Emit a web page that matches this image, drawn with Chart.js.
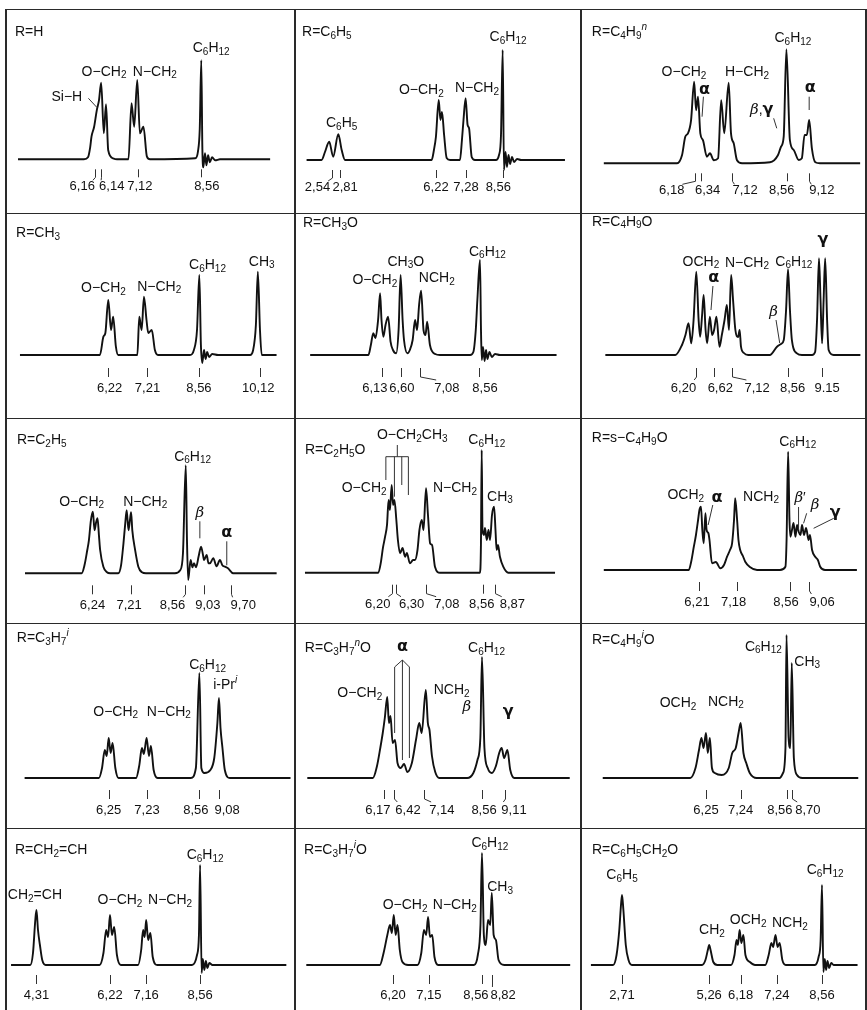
<!DOCTYPE html>
<html lang="en">
<head>
<meta charset="UTF-8">
<title>NMR spectra</title>
<script src="https://cdn.jsdelivr.net/npm/chart.js@4.4.1/dist/chart.umd.min.js"></script>
<style>
  body { margin: 0; background: #fff; }
  #fig { position: relative; width: 867px; height: 1010px; background: #fff; overflow: hidden; }
  #fig canvas { position: absolute; }
  .hl, .vl { position: absolute; background: #2a2a2a; }
  .hl { height: 1px; }
  .vl { width: 2px; }
</style>
</head>
<body>
<div id="fig"></div>
<script>
// ---- spectra: [tau (ppm), relative intensity above baseline] ----
const p1Curve = [[4.40,0],[5.90,0],[5.99,2],[6.04,12],[6.07,22.6],[6.13,32.6],[6.19,49],[6.24,59],[6.29,76.6],[6.35,26],[6.40,55],[6.45,9],[6.56,1],[6.65,0],[6.91,0],[6.98,56],[7.04,32.6],[7.11,79.3],[7.17,26],[7.25,32.6],[7.33,2.6],[7.40,0],[8.43,1],[8.49,8],[8.53,30],[8.565,99],[8.59,10],[8.61,-8],[8.65,6],[8.68,-6],[8.72,4],[8.76,-3],[8.81,2],[8.88,-1],[8.99,0],[10.13,0]];
const p1Ticks = [6.16, 6.28, 7.12, 8.56];
const p1TickText = ['6,16', '6,14', '7,12', '8,56'];
const p1TickAt = [5.86, 6.53, 7.17, 8.69];
const p1Notes = [['R=H', 4.33, 127.3, 'l'], ['Si−H', 5.51, 62.6], ['O−CH_2', 6.355, 87.6], ['N−CH_2', 7.51, 87.6], ['C_6H_{12}', 8.79, 111]];
const p1Lines = [[6.00, 61, 6.19, 52]];

const p2Curve = [[1.63,0],[2.16,0],[2.28,8],[2.43,18.3],[2.57,3.3],[2.75,25.7],[2.87,10],[2.99,0],[6.05,0],[6.13,10],[6.20,23],[6.30,60],[6.36,40],[6.415,48],[6.49,25],[6.58,2],[6.70,0],[7.05,0],[7.12,20],[7.175,40],[7.25,61.7],[7.32,35],[7.37,32],[7.465,3],[7.58,0],[8.32,0],[8.43,5],[8.50,25],[8.56,110],[8.605,-10],[8.66,8],[8.71,-7],[8.765,5],[8.82,-4],[8.89,3],[8.96,-2],[9.07,1],[9.21,0],[10.76,0]];
const p2Ticks = [2.54, 2.81, 6.22, 7.28, 8.56];
const p2TickText = ['2,54', '2,81', '6,22', '7,28', '8,56'];
const p2TickAt = [2.016, 2.99, 6.203, 7.263, 8.404];
const p2Notes = [['R=C_6H_5', 1.47, 128, 'l'], ['C_6H_5', 2.87, 36.7], ['O−CH_2', 5.684, 70], ['N−CH_2', 7.65, 72], ['C_6H_{12}', 8.75, 123]];
const p2Lines = [];

const p3Curve = [[3.81,0],[5.71,0],[5.835,8],[5.92,26.6],[5.99,30],[6.07,43],[6.15,81.6],[6.20,53],[6.25,66.6],[6.31,30],[6.38,23],[6.48,6.6],[6.56,10],[6.66,3],[6.77,5],[6.85,63],[6.93,30],[7.045,80.6],[7.105,30],[7.175,20],[7.26,3],[7.39,0],[8.115,1],[8.32,8],[8.40,16.6],[8.47,26.6],[8.54,114],[8.63,23.3],[8.73,13.3],[8.86,3.3],[8.94,5],[9.01,28.3],[9.07,28.3],[9.13,43.3],[9.20,15],[9.29,1],[9.41,0],[10.45,0]];
const p3Ticks = [6.18, 6.34, 7.12, 8.56, 9.12];
const p3TickText = ['6,18', '6,34', '7,12', '8,56', '9,12'];
const p3TickAt = [5.57, 6.50, 7.47, 8.42, 9.46];
const p3Notes = [['R=C_4H_9^n', 3.50, 131.3, 'l'], ['O−CH_2', 5.887, 91.3], ['H−CH_2', 7.52, 91.3], ['α', 6.42, 73.3], ['β,γ', 7.90, 53.3], ['C_6H_{12}', 8.71, 125], ['α', 9.16, 75]];
const p3Lines = [[6.39, 66.6, 6.355, 46.6], [8.21, 45, 8.29, 35], [9.13, 66.6, 9.13, 53.3]];

const p4Curve = [[3.96,0],[6.01,0],[6.10,18.3],[6.15,22],[6.225,55],[6.295,25],[6.35,38.3],[6.42,8.3],[6.48,0],[6.97,0],[7.02,38.3],[7.08,25],[7.14,58.3],[7.205,35],[7.25,22],[7.34,25],[7.42,5],[7.50,0],[8.32,0],[8.42,5],[8.50,25],[8.56,80],[8.60,10],[8.635,-8],[8.68,5],[8.72,-4],[8.76,3],[8.81,-2],[8.89,1],[9.04,0],[9.86,0],[9.94,5],[10.01,30],[10.06,83.3],[10.115,25],[10.16,0],[10.54,0]];
const p4Ticks = [6.22, 7.21, 8.56, 10.12];
const p4TickText = ['6,22', '7,21', '8,56', '10,12'];
const p4TickAt = [6.26, 7.23, 8.55, 10.07];
const p4Notes = [['R=CH_3', 3.86, 122, 'l'], ['O−CH_2', 6.10, 66.7], ['N−CH_2', 7.53, 68.3], ['C_6H_{12}', 8.77, 90], ['CH_3', 10.16, 93.3]];
const p4Lines = [];

const p5Curve = [[4.35,0],[5.80,0],[5.86,10],[5.92,21.7],[5.975,17],[6.04,35],[6.09,61.7],[6.125,35],[6.17,18.3],[6.225,30],[6.29,38.3],[6.35,13.3],[6.41,5],[6.49,1.7],[6.55,25],[6.60,80],[6.65,35],[6.685,15],[6.77,1.7],[6.83,5],[6.90,15],[6.96,35],[7.01,25],[7.06,50],[7.11,64.3],[7.17,25],[7.22,20],[7.26,33.3],[7.33,10],[7.46,1],[7.58,0],[8.33,0],[8.41,3],[8.47,25],[8.51,55],[8.575,95],[8.60,25],[8.62,-5],[8.65,8],[8.69,-6],[8.725,5],[8.76,-4],[8.81,3],[8.87,-2],[8.95,1],[9.07,0],[10.48,0]];
const p5Ticks = [6.13, 6.60, 7.08, 8.56];
const p5TickText = ['6,13', '6,60', '7,08', '8,56'];
const p5TickAt = [5.96, 6.63, 7.75, 8.70];
const p5Notes = [['R=CH_3O', 4.17, 131.7, 'l'], ['O−CH_2', 5.96, 75], ['CH_3O', 6.73, 93.3], ['NCH_2', 7.50, 76.7], ['C_6H_{12}', 8.76, 103.3]];
const p5Lines = [];

const p6Curve = [[3.85,0],[5.66,0],[5.83,10],[5.92,20],[6.00,31.7],[6.07,11.7],[6.13,35],[6.20,83.3],[6.26,35],[6.30,18.3],[6.35,40],[6.39,60],[6.44,25],[6.48,11.7],[6.55,38.3],[6.61,20],[6.66,25],[6.72,38.3],[6.80,8.3],[6.86,20],[6.93,35],[6.99,50],[7.045,25],[7.10,80],[7.15,55],[7.21,25],[7.28,18],[7.32,25],[7.355,8.3],[7.43,2],[7.54,0],[8.10,0],[8.285,8.3],[8.39,11],[8.46,15],[8.52,45],[8.57,85.7],[8.62,45],[8.67,15],[8.80,1.7],[8.93,0],[9.19,0],[9.27,3],[9.32,35],[9.37,96.7],[9.41,55],[9.45,11.7],[9.49,55],[9.53,96.7],[9.58,35],[9.62,5],[9.75,0],[10.44,0]];
const p6Ticks = [6.20, 6.65, 7.12, 8.56, 9.45];
const p6TickText = ['6,20', '6,62', '7,12', '8,56', '9.15'];
const p6TickAt = [5.87, 6.82, 7.77, 8.69, 9.58];
const p6Notes = [['R=C_4H_9O', 3.505, 133.3, 'l'], ['OCH_2', 6.32, 93.3], ['α', 6.65, 76.7], ['N−CH_2', 7.51, 92.3], ['C_6H_{12}', 8.72, 93.3], ['β', 8.20, 43.3], ['γ', 9.47, 115]];
const p6Lines = [[6.63, 69, 6.58, 45], [8.26, 35, 8.355, 12]];

const p7Curve = [[4.58,0],[5.99,0],[6.06,8],[6.13,23.3],[6.17,33],[6.22,53],[6.27,61.6],[6.31,43],[6.35,51],[6.385,55],[6.42,38],[6.45,23.3],[6.53,6.6],[6.62,1],[6.70,0],[6.90,0],[6.97,8],[7.03,30],[7.07,48],[7.11,63],[7.155,43],[7.19,53],[7.22,61],[7.25,43],[7.32,23.3],[7.40,6.6],[7.49,1],[7.59,0],[8.31,0],[8.44,3],[8.51,20],[8.58,108],[8.61,33],[8.64,-6.7],[8.70,13.3],[8.745,6],[8.785,10],[8.835,6],[8.90,17],[8.96,26.6],[9.01,18],[9.035,13.3],[9.10,18.3],[9.145,10],[9.18,10],[9.265,15],[9.345,7],[9.43,13.3],[9.49,8],[9.555,6.6],[9.63,5],[9.76,0],[10.84,0]];
const p7Ticks = [6.24, 7.21, 8.56, 9.03, 9.70];
const p7TickText = ['6,24', '7,21', '8,56', '9,03', '9,70'];
const p7TickAt = [6.26, 7.17, 8.25, 9.13, 10.01];
const p7Notes = [['R=C_2H_5', 4.38, 133.3, 'l'], ['C_6H_{12}', 8.75, 116.6], ['O−CH_2', 5.99, 71.6], ['N−CH_2', 7.57, 71.6], ['β', 8.93, 60], ['α', 9.60, 40]];
const p7Lines = [[8.93, 52, 8.93, 35], [9.60, 32, 9.60, 8]];

const p8Curve = [[3.965,0],[5.855,0],[5.92,10],[5.975,25],[6.03,36],[6.08,48],[6.12,72.7],[6.155,62.7],[6.20,87.7],[6.235,67.7],[6.27,72.7],[6.32,52.7],[6.36,32.7],[6.415,19.4],[6.48,24.7],[6.545,16],[6.59,19.7],[6.67,9.4],[6.75,12.7],[6.80,12.7],[6.865,22.7],[6.915,42.7],[6.975,52.7],[7.02,42.7],[7.085,84.4],[7.135,57.7],[7.19,29.4],[7.24,27.7],[7.315,6],[7.445,0],[8.475,0],[8.50,27.7],[8.52,122.7],[8.54,42.7],[8.58,37.7],[8.605,44.7],[8.65,32.7],[8.695,42.7],[8.735,32.7],[8.785,57.7],[8.84,66],[8.875,42.7],[8.905,22.7],[8.94,27.7],[8.99,16],[9.075,6],[9.205,0],[10.41,0]];
const p8Ticks = [6.20, 6.30, 7.08, 8.56, 8.87];
const p8TickText = ['6,20', '6,30', '7,08', '8,56', '8,87'];
const p8TickAt = [5.84, 6.715, 7.62, 8.52, 9.31];
const p8Notes = [['R=C_2H_5O', 3.965, 122.7, 'l'], ['O−CH_2CH_3', 6.73, 137.7], ['O−CH_2', 5.49, 84.4], ['N−CH_2', 7.83, 84.4], ['C_6H_{12}', 8.65, 132.7], ['CH_3', 8.99, 76]];
const p8Lines = [[6.345, 127.7, 6.345, 116], [6.05, 116, 6.63, 116], [6.05, 116, 6.05, 92.7], [6.27, 116, 6.27, 76], [6.46, 116, 6.46, 87.7], [6.63, 116, 6.63, 77.7]];

const p9Curve = [[3.74,0],[5.94,0],[6.00,8],[6.07,23.3],[6.125,35],[6.18,50],[6.215,60],[6.255,63.3],[6.29,40],[6.325,26.7],[6.37,56.7],[6.40,40],[6.445,37],[6.475,30],[6.54,6.7],[6.64,8],[6.755,1.7],[6.85,5],[6.93,13.3],[7.005,20],[7.06,26.7],[7.11,50],[7.14,71.7],[7.19,50],[7.225,30],[7.27,20],[7.34,14],[7.40,8.3],[7.52,3],[7.705,0],[8.30,0],[8.44,3.3],[8.47,30],[8.51,118.3],[8.545,50],[8.57,33.3],[8.61,40],[8.65,47],[8.70,33.3],[8.74,45],[8.785,38],[8.83,35],[8.87,45],[8.92,35],[8.975,42],[9.04,30],[9.075,35],[9.13,20],[9.21,13.3],[9.28,10],[9.34,3.3],[9.465,0],[10.29,0]];
const p9Ticks = [6.21, 7.18, 8.56, 9.06];
const p9TickText = ['6,21', '7,18', '8,56', '9,06'];
const p9TickAt = [6.152, 7.10, 8.455, 9.388];
const p9Notes = [['R=s−C_4H_9O', 3.43, 131.7, 'l'], ['C_6H_{12}', 8.76, 128.3], ['OCH_2', 5.86, 75], ['α', 6.67, 71.7], ['NCH_2', 7.81, 73.3], ['β′', 8.82, 71.7], ['β', 9.21, 65], ['γ', 9.73, 56.7]];
const p9Lines = [[6.56, 65, 6.44, 45], [8.78, 63, 8.78, 40], [8.99, 56.7, 8.91, 46.7], [9.69, 51.7, 9.17, 41.7]];

const p10Curve = [[4.1,0],[6.0,0],[6.08,10],[6.15,28],[6.20,22],[6.25,40],[6.30,25],[6.35,35],[6.42,10],[6.50,0],[6.95,0],[7.03,12],[7.10,30],[7.15,24],[7.22,40],[7.28,22],[7.33,32],[7.40,8],[7.50,0],[8.35,0],[8.48,10],[8.57,105],[8.62,10],[8.70,5],[8.85,8],[8.95,20],[9.03,55],[9.07,80],[9.11,50],[9.16,30],[9.22,8],[9.35,0],[10.9,0]];
const p10Ticks = [6.25, 7.23, 8.56, 9.08];
const p10TickText = ['6,25', '7,23', '8,56', '9,08'];
const p10TickAt = [6.25, 7.23, 8.48, 9.28];
const p10Notes = [['R=C_3H_7^i', 3.90, 140, 'l'], ['O−CH_2', 6.43, 66.3], ['N−CH_2', 7.79, 66.3], ['C_6H_{12}', 8.78, 113], ['i-Pr^i', 9.23, 93]];
const p10Lines = [];

const p11Curve = [[4.3,0],[5.9,0],[6.0,12],[6.08,30],[6.14,45],[6.19,60],[6.25,81],[6.29,55],[6.33,62],[6.38,35],[6.44,38],[6.50,15],[6.58,10],[6.66,14],[6.74,6],[6.85,15],[6.95,38],[7.03,55],[7.09,45],[7.19,88],[7.24,55],[7.28,48],[7.34,22],[7.42,6],[7.52,0],[8.2,0],[8.35,5],[8.45,18],[8.52,40],[8.56,121],[8.62,30],[8.70,10],[8.80,5],[8.90,12],[8.98,25],[9.04,30],[9.10,20],[9.18,28],[9.25,8],[9.35,0],[10.7,0]];
const p11Ticks = [6.17, 6.42, 7.14, 8.56, 9.11];
const p11TickText = ['6,17', '6,42', '7,14', '8,56', '9,11'];
const p11TickAt = [6.02, 6.755, 7.58, 8.61, 9.34];
const p11Notes = [['R=C_3H_7^nO', 4.24, 130, 'l'], ['α', 6.62, 131], ['O−CH_2', 5.58, 85], ['NCH_2', 7.82, 88], ['β', 8.19, 71], ['γ', 9.20, 66], ['C_6H_{12}', 8.67, 130]];
const p11Lines = [[6.62, 118, 6.43, 111], [6.43, 111, 6.43, 45], [6.62, 118, 6.79, 111], [6.79, 111, 6.79, 20], [6.62, 118, 6.62, 18]];

const p12Curve = [[3.3,0],[5.8,0],[5.95,10],[6.05,28],[6.12,40],[6.18,30],[6.25,45],[6.30,25],[6.36,40],[6.42,10],[6.5,5],[6.7,3],[6.9,10],[7.0,25],[7.1,30],[7.18,45],[7.24,55],[7.32,25],[7.4,15],[7.5,5],[7.7,0],[8.35,0],[8.45,5],[8.52,30],[8.55,143],[8.61,40],[8.66,30],[8.70,115],[8.76,20],[8.85,3],[9.0,0],[10.6,0]];
const p12Ticks = [6.25, 7.24, 8.56, 8.70];
const p12TickText = ['6,25', '7,24', '8,56', '8,70'];
const p12TickAt = [6.25, 7.24, 8.36, 9.16];
const p12Notes = [['R=C_4H_9^iO', 2.99, 138, 'l'], ['C_6H_{12}', 7.89, 131.3], ['CH_3', 9.14, 116.3], ['OCH_2', 5.45, 74.7], ['NCH_2', 6.82, 76.3]];
const p12Lines = [];

const p13Curve = [[3.65,0],[4.15,0],[4.22,12],[4.28,45],[4.31,55],[4.35,35],[4.40,20],[4.46,5],[4.55,0],[5.95,0],[6.05,12],[6.12,35],[6.17,28],[6.22,50],[6.27,30],[6.33,38],[6.40,10],[6.5,0],[6.95,0],[7.03,15],[7.08,35],[7.12,28],[7.16,45],[7.21,25],[7.27,32],[7.33,8],[7.45,0],[8.35,0],[8.48,10],[8.53,30],[8.56,100],[8.60,-8],[8.63,6],[8.67,-5],[8.71,4],[8.75,-3],[8.80,2],[8.88,0],[10.8,0]];
const p13Ticks = [4.31, 6.22, 7.16, 8.56];
const p13TickText = ['4,31', '6,22', '7,16', '8,56'];
const p13TickAt = [4.31, 6.22, 7.16, 8.56];
const p13Notes = [['R=CH_2=CH', 3.75, 115, 'l'], ['CH_2=CH', 4.27, 70], ['O−CH_2', 6.48, 65], ['N−CH_2', 7.78, 65], ['C_6H_{12}', 8.69, 110]];
const p13Lines = [];

const p14Curve = [[3.9,0],[5.85,0],[5.95,12],[6.05,30],[6.12,40],[6.17,32],[6.22,50],[6.27,30],[6.32,40],[6.38,15],[6.45,3],[6.6,0],[6.85,0],[6.95,12],[7.02,35],[7.08,30],[7.13,48],[7.18,28],[7.24,30],[7.30,8],[7.4,0],[8.35,0],[8.45,10],[8.52,40],[8.56,112],[8.61,30],[8.66,20],[8.72,45],[8.78,40],[8.82,72],[8.87,30],[8.93,25],[9.0,5],[9.15,0],[10.9,0]];
const p14Ticks = [6.20, 7.15, 8.56, 8.82];
const p14TickText = ['6,20', '7,15', '8,56', '8,82'];
const p14TickAt = [6.20, 7.15, 8.40, 9.12];
const p14Notes = [['R=C_3H_7^iO', 3.84, 115, 'l'], ['O−CH_2', 6.52, 60], ['N−CH_2', 7.84, 60], ['C_6H_{12}', 8.77, 122], ['CH_3', 9.04, 78]];
const p14Lines = [];

const p15Curve = [[1.8,0],[2.45,0],[2.55,10],[2.63,35],[2.68,60],[2.71,70],[2.75,55],[2.82,20],[2.9,5],[3.0,0],[5.05,0],[5.15,5],[5.22,15],[5.26,20],[5.30,15],[5.38,3],[5.5,0],[5.9,0],[6.0,10],[6.06,25],[6.10,20],[6.15,35],[6.20,22],[6.26,30],[6.32,10],[6.45,3],[6.6,0],[6.9,0],[7.0,10],[7.08,22],[7.13,18],[7.20,30],[7.26,18],[7.32,22],[7.40,5],[7.5,0],[8.35,0],[8.46,8],[8.52,25],[8.56,80],[8.60,-7],[8.64,6],[8.68,-5],[8.72,4],[8.77,-3],[8.83,2],[8.9,0],[9.6,0]];
const p15Ticks = [2.71, 5.26, 6.18, 7.24, 8.56];
const p15TickText = ['2,71', '5,26', '6,18', '7,24', '8,56'];
const p15TickAt = [2.71, 5.26, 6.18, 7.24, 8.56];
const p15Notes = [['R=C_6H_5CH_2O', 1.83, 115, 'l'], ['C_6H_5', 2.71, 90], ['CH_2', 5.34, 35], ['OCH_2', 6.40, 45], ['NCH_2', 7.62, 42], ['C_6H_{12}', 8.65, 95]];
const p15Lines = [];

// ---- layout ----
const colEdges = [6, 295, 581, 866];
const rowEdges = [9, 213, 418, 623, 828, 1010];
const rowTickGap = [[10, 18, 27], [13, 22, 33], [12, 21, 32], [12, 21, 32], [10, 19, 30]];

const panels = [
  { curve: p1Curve, ticks: p1Ticks, text: p1TickText, at: p1TickAt, notes: p1Notes, lines: p1Lines, x: [4.127, 10.695], y: [-53.7, 150.3] },
  { curve: p2Curve, ticks: p2Ticks, text: p2TickText, at: p2TickAt, notes: p2Notes, lines: p2Lines, x: [1.221, 11.327], y: [-53, 151] },
  { curve: p3Curve, ticks: p3Ticks, text: p3TickText, at: p3TickAt, notes: p3Notes, lines: p3Lines, x: [3.219, 10.602], y: [-49.7, 154.3] },
  { curve: p4Curve, ticks: p4Ticks, text: p4TickText, at: p4TickAt, notes: p4Notes, lines: p4Lines, x: [3.602, 11.013], y: [-63, 142] },
  { curve: p5Curve, ticks: p5Ticks, text: p5TickText, at: p5TickAt, notes: p5Notes, lines: p5Lines, x: [3.973, 11.088], y: [-63, 142] },
  { curve: p6Curve, ticks: p6Ticks, text: p6TickText, at: p6TickAt, notes: p6Notes, lines: p6Lines, x: [3.221, 10.585], y: [-63, 142] },
  { curve: p7Curve, ticks: p7Ticks, text: p7TickText, at: p7TickAt, notes: p7Notes, lines: p7Lines, x: [4.108, 11.297], y: [-49.7, 155.3] },
  { curve: p8Curve, ticks: p8Ticks, text: p8TickText, at: p8TickAt, notes: p8Notes, lines: p8Lines, x: [3.708, 11.079], y: [-50.3, 154.7] },
  { curve: p9Curve, ticks: p9Ticks, text: p9TickText, at: p9TickAt, notes: p9Notes, lines: p9Lines, x: [3.15, 10.5255], y: [-53, 152] },
  { curve: p10Curve, ticks: p10Ticks, text: p10TickText, at: p10TickAt, notes: p10Notes, lines: p10Lines, x: [3.624, 11.015], y: [-50, 155] },
  { curve: p11Curve, ticks: p11Ticks, text: p11TickText, at: p11TickAt, notes: p11Notes, lines: p11Lines, x: [4.0, 10.975], y: [-50, 155] },
  { curve: p12Curve, ticks: p12Ticks, text: p12TickText, at: p12TickAt, notes: p12Notes, lines: p12Lines, x: [2.679, 10.821], y: [-50, 155] },
  { curve: p13Curve, ticks: p13Ticks, text: p13TickText, at: p13TickAt, notes: p13Notes, lines: p13Lines, x: [3.519, 11.025], y: [-45, 137] },
  { curve: p14Curve, ticks: p14Ticks, text: p14TickText, at: p14TickAt, notes: p14Notes, lines: p14Lines, x: [3.60, 11.187], y: [-45, 137] },
  { curve: p15Curve, ticks: p15Ticks, text: p15TickText, at: p15TickAt, notes: p15Notes, lines: p15Lines, x: [1.51, 9.847], y: [-45, 137] }
];

// ---- text with sub/superscripts: "C_6H_{12}", "H_7^n" ----
function parseRich(s) {
  var segs = [], i = 0;
  while (i < s.length) {
    var c = s[i];
    if (c === '_' || c === '^') {
      var m = c === '_' ? 1 : 2, txt;
      if (s[i + 1] === '{') { var j = s.indexOf('}', i); txt = s.slice(i + 2, j); i = j + 1; }
      else { txt = s[i + 1]; i += 2; }
      segs.push({ t: txt, m: m });
    } else {
      segs.push({ t: c, m: 0 });
      i++;
    }
  }
  return segs;
}

function charFont(ch, m, size) {
  var sz = m ? size - 4 : size;
  if (ch === 'α' || ch === 'γ') return 'bold ' + (sz + 2) + 'px "DejaVu Sans"';
  if (ch === 'β') return 'italic ' + (sz + 1) + 'px "DejaVu Serif"';
  if (m === 2) return 'italic ' + sz + 'px "Liberation Sans"';
  return sz + 'px "Liberation Sans"';
}

function drawRich(ctx, s, x, y, align, size) {
  var parts = [], w = 0;
  size = size || 14;
  parseRich(s).forEach(function (sg) {
    for (var ch of sg.t) {
      ctx.font = charFont(ch, sg.m, size);
      var cw = ctx.measureText(ch).width;
      parts.push({ ch: ch, m: sg.m, w: cw });
      w += cw;
    }
  });
  var cx = align === 'l' ? x : x - w / 2;
  ctx.textBaseline = 'middle';
  ctx.textAlign = 'left';
  ctx.fillStyle = '#111';
  parts.forEach(function (p) {
    ctx.font = charFont(p.ch, p.m, size);
    var dy = p.m === 1 ? 4 : (p.m === 2 ? -5 : 0);
    ctx.fillText(p.ch, cx, y + dy);
    cx += p.w;
  });
  return w;
}

function makeAnnotator(p, gap) {
  return {
    id: 'annotate',
    afterDraw: function (chart) {
      var ctx = chart.ctx, xs = chart.scales.x, ys = chart.scales.y;
      var base = ys.getPixelForValue(0);
      ctx.save();
      ctx.strokeStyle = '#333';
      ctx.lineWidth = 1;
      // tau marks under the peaks
      p.ticks.forEach(function (v, k) {
        var px = Math.round(xs.getPixelForValue(v)) + 0.5;
        var t0 = base + gap[0], t1 = base + gap[1];
        ctx.beginPath(); ctx.moveTo(px, t0); ctx.lineTo(px, t1); ctx.stroke();
        var lx = xs.getPixelForValue(p.at[k]);
        var w = drawRich(ctx, p.text[k], lx, base + gap[2], 'c', 13);
        if (Math.abs(lx - px) > 8) {
          var edge = lx > px ? lx - w / 2 + 2 : lx + w / 2 - 2;
          ctx.beginPath(); ctx.moveTo(px, t1); ctx.lineTo(edge, t1 + 3); ctx.stroke();
        }
      });
      // leader / bracket lines
      p.lines.forEach(function (s) {
        ctx.beginPath();
        ctx.moveTo(xs.getPixelForValue(s[0]), ys.getPixelForValue(s[1]));
        ctx.lineTo(xs.getPixelForValue(s[2]), ys.getPixelForValue(s[3]));
        ctx.stroke();
      });
      // group labels and panel title
      p.notes.forEach(function (n) {
        drawRich(ctx, n[0], xs.getPixelForValue(n[1]), ys.getPixelForValue(n[2]), n[3] || 'c', 14);
      });
      ctx.restore();
    }
  };
}

const fig = document.getElementById('fig');

panels.forEach(function (p, i) {
  var r = Math.floor(i / 3), c = i % 3;
  var w = colEdges[c + 1] - colEdges[c], h = rowEdges[r + 1] - rowEdges[r];
  var cv = document.createElement('canvas');
  cv.width = w; cv.height = h;
  cv.style.left = colEdges[c] + 'px';
  cv.style.top = rowEdges[r] + 'px';
  cv.style.width = w + 'px';
  cv.style.height = h + 'px';
  fig.appendChild(cv);

  new Chart(cv, {
    type: 'line',
    data: {
      datasets: [{
        data: p.curve.map(function (pt) { return { x: pt[0], y: pt[1] }; }),
        borderColor: '#111',
        borderWidth: 1.9,
        pointRadius: 0,
        fill: false,
        cubicInterpolationMode: 'monotone'
      }]
    },
    options: {
      responsive: false,
      animation: false,
      events: [],
      layout: { padding: 0, autoPadding: false },
      plugins: { legend: { display: false }, tooltip: { enabled: false } },
      scales: {
        x: { type: 'linear', min: p.x[0], max: p.x[1], display: false },
        y: { type: 'linear', min: p.y[0], max: p.y[1], display: false }
      }
    },
    plugins: [makeAnnotator(p, rowTickGap[r])]
  });
});

// frame lines of the table
rowEdges.slice(0, 5).forEach(function (y) {
  var d = document.createElement('div');
  d.className = 'hl';
  d.style.left = colEdges[0] + 'px';
  d.style.top = y + 'px';
  d.style.width = (colEdges[3] - colEdges[0]) + 'px';
  fig.appendChild(d);
});
colEdges.forEach(function (x) {
  var d = document.createElement('div');
  d.className = 'vl';
  d.style.left = (x - 1) + 'px';
  d.style.top = rowEdges[0] + 'px';
  d.style.height = (rowEdges[5] - rowEdges[0]) + 'px';
  fig.appendChild(d);
});
</script>
</body>
</html>
